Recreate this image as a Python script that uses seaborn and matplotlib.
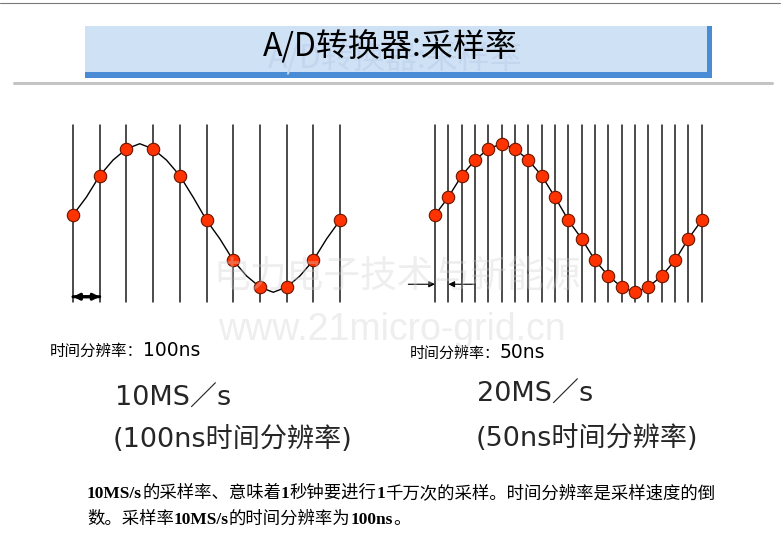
import numpy as np
import pandas as pd
import seaborn as sns
import matplotlib.pyplot as plt
from matplotlib.patches import Rectangle
from matplotlib.lines import Line2D

# analog signal read every 50 ns (one full period = 1000 ns)
time_ns = [0, 50, 100, 150, 200, 250, 300, 350, 400, 450, 500,
           550, 600, 650, 700, 750, 800, 850, 900, 950, 1000]
signal = [0.04, 0.28, 0.57, 0.78, 0.93, 1.0, 0.93, 0.78, 0.57, 0.28, -0.03,
          -0.28, -0.57, -0.78, -0.93, -1.0, -0.93, -0.78, -0.57, -0.28, -0.03]

left_step = 100   # 10MS/s
right_step = 50   # 20MS/s

title = "A/D转换器:采样率"
left_labels = ["时间分辨率：", "100ns", "10MS／s", "(100ns时间分辨率)"]
right_labels = ["时间分辨率：", "50ns", "20MS／s", "(50ns时间分辨率)"]
note_line1 = [("10MS/s", True), ("的采样率、意味着", False), ("1", True),
              ("秒钟要进行", False), ("1", True),
              ("千万次的采样。时间分辨率是采样速度的倒", False)]
note_line2 = [("数。采样率", False), ("10MS/s", True), ("的时间分辨率为", False),
              ("100ns", True), ("。", False)]

df = pd.DataFrame({"t": time_ns, "v": signal})

sns.set_theme(style="white")
plt.rcParams['font.family'] = ['DejaVu Sans', 'Noto Sans CJK SC']

W, H = 784, 553
fig = plt.figure(figsize=(7.84, 5.53), dpi=100)
fig.patch.set_facecolor("white")


def fx(x):
    return x / W


def fy(y):
    return 1 - y / H


CJK = ['Noto Sans CJK SC']
LAT = ['DejaVu Sans', 'Noto Sans CJK SC']
SERIF = ['Liberation Serif']


def put_runs(x, y, runs):
    r = fig.canvas.get_renderer()
    for s, fam, size, weight in runs:
        t = fig.text(fx(x), fy(y), s, family=fam, fontsize=size, weight=weight,
                     ha='left', va='baseline', color='black')
        x = t.get_window_extent(r).x1
    return x


# header lines and title box
fig.add_artist(Line2D([0, fx(780)], [fy(3), fy(3)], color='#7a7a7a', lw=0.8))
fig.add_artist(Line2D([fx(14), fx(772)], [fy(83), fy(83)], color='#c4c4c4', lw=2.2))
box = Rectangle((fx(85), fy(78)), (712 - 85) / W, 52 / H, facecolor='#cfe1f5',
                edgecolor='none', transform=fig.transFigure)
fig.add_artist(box)
fig.add_artist(Rectangle((fx(85), fy(78)), (712 - 85) / W, 6 / H, facecolor='#4a8bd6',
                         edgecolor='none', transform=fig.transFigure))
fig.add_artist(Rectangle((fx(707), fy(78)), 5 / W, 52 / H, facecolor='#4a8bd6',
                         edgecolor='none', transform=fig.transFigure))
ghost = fig.text(fx(395), fy(58), title, family=CJK, fontsize=23, ha='center',
                 va='center', color='#c3d6ee')
ghost.set_clip_path(box)
fig.text(fx(390), fy(46), title, family=CJK, fontsize=23, weight='medium',
         ha='center', va='center', color='black')


def wave(ax, step, arrows, arrow_lw):
    samples = df[df["t"] % step == 0]
    for tt in samples["t"]:
        ax.axvline(tt, color='#1a1a1a', lw=1.1, zorder=1, clip_on=False)
    sns.lineplot(data=df, x="t", y="v", ax=ax, color='black', lw=1.0,
                 sort=False, zorder=2)
    sns.scatterplot(data=samples, x="t", y="v", ax=ax, s=80, color='#ff3300',
                    edgecolor='#6b1500', linewidth=0.8, zorder=4, clip_on=False)
    for x0, x1, yv in arrows:
        ax.annotate('', xy=(x1, yv), xytext=(x0, yv), annotation_clip=False,
                    arrowprops=dict(arrowstyle='-|>', lw=arrow_lw,
                                    color='black', mutation_scale=9,
                                    shrinkA=0, shrinkB=0))
    ax.set_xlim(0, 1000)
    ax.set_ylim(-1.131, 1.252)
    ax.axis('off')


ax1 = fig.add_axes([fx(73), fy(302), 267 / W, 177 / H])
wave(ax1, left_step, [(0, 100, -1.06), (100, 0, -1.06)], 2.2)
ax2 = fig.add_axes([fx(435), fy(302), 266.7 / W, 177 / H])
wave(ax2, right_step, [(-100, 0, -0.892), (150, 50, -0.892)], 0.8)

# watermarks
fig.text(fx(213), fy(276), "电力电子技术与新能源", family=CJK, fontsize=26.5,
         va='center', ha='left', color='#d0d0d0', alpha=0.35, zorder=10)
fig.text(fx(218), fy(330), "www.21micro-grid.cn", family=['Liberation Sans'],
         fontsize=27, va='center', ha='left', color='#d0d0d0', alpha=0.35, zorder=10)

# labels under the waves
put_runs(50, 356, [(left_labels[0], CJK, 11.2, 'normal'),
                   (left_labels[1], LAT, 13.5, 'normal')])
put_runs(410, 358, [(right_labels[0], CJK, 10.8, 'normal'),
                    (right_labels[1], LAT, 13.5, 'normal')])
fig.text(fx(115), fy(406), left_labels[2], family=LAT, fontsize=19.5, va='baseline')
fig.text(fx(477), fy(402), right_labels[2], family=LAT, fontsize=19.5, va='baseline')
fig.text(fx(113), fy(447), left_labels[3], family=LAT, fontsize=19.5, va='baseline')
fig.text(fx(476), fy(446), right_labels[3], family=LAT, fontsize=19.5, va='baseline')

# explanation text
put_runs(87, 498, [(s, SERIF if b else CJK, 12.5, 'bold' if b else 'normal')
                   for s, b in note_line1])
put_runs(87, 524, [(s, SERIF if b else CJK, 12.5, 'bold' if b else 'normal')
                   for s, b in note_line2])

fig.savefig('out.png', dpi=100)
